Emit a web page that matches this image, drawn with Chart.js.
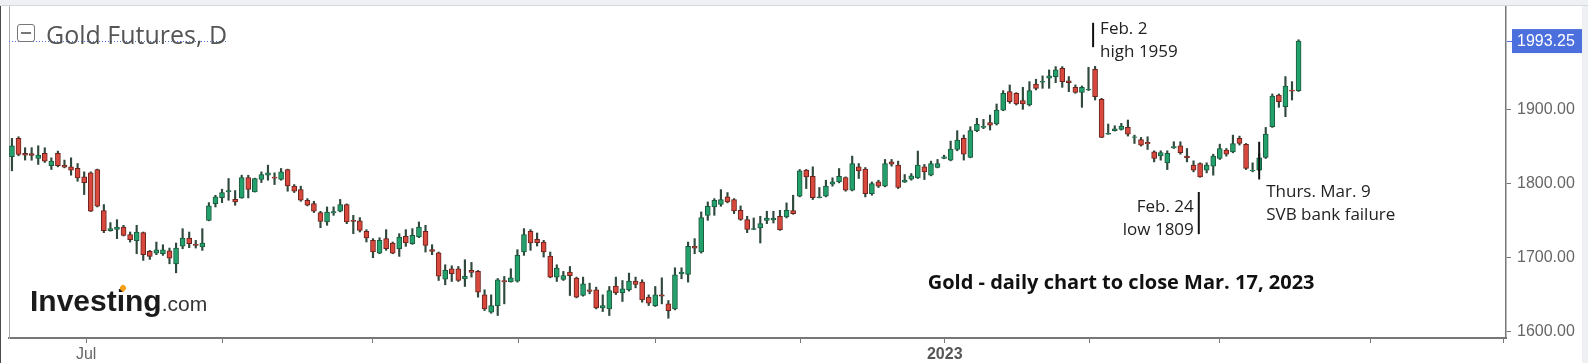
<!DOCTYPE html>
<html>
<head>
<meta charset="utf-8">
<title>Gold Futures, D</title>
<script src="https://cdn.jsdelivr.net/npm/chart.js@4.4.1/dist/chart.umd.min.js"></script>
<style>
    html, body { margin: 0; padding: 0; }
    body { width: 1588px; height: 363px; background: #eef0f3; position: relative; overflow: hidden; }
    #topline { position: absolute; left: 0; top: 5px; width: 1588px; height: 1px; background: #d5d8dd; }
    #panel { position: absolute; left: 0; top: 6px; width: 1582px; height: 357px; background: #fff; }
    #edge { position: absolute; left: 0; top: 6px; width: 1px; height: 357px; background: #4a4a4a; }
    #icon { position: absolute; left: 17px; top: 24px; width: 16px; height: 16px; border: 1.5px solid #777; border-radius: 3px; }
    #icon::after { content: ''; position: absolute; left: 3px; top: 7px; width: 10px; height: 2px; background: #777; }
    #title { position: absolute; left: 46px; top: 22px; font-family: 'Open Sans', sans-serif; font-size: 25px; line-height: 24px; color: #555; white-space: nowrap; }
    #logo { position: absolute; left: 30px; top: 286px; font-family: 'Liberation Sans', Arial, sans-serif; line-height: 30px; white-space: nowrap; }
    #logo b { font-size: 30px; color: #1b1b1b; }
    #logo span { font-size: 21px; color: #333; }
    #flame { position: absolute; left: 120px; top: 285px; width: 6px; height: 6px; background: #f6a01a; border-radius: 50% 50% 50% 0; transform: rotate(-45deg); }
</style>
</head>
<body>
<div id="topline"></div>
<div id="panel"><canvas id="chart" width="1582" height="357"></canvas></div>
<div id="edge"></div>
<div id="icon"></div>
<div id="title">Gold Futures, D</div>
<div id="logo"><b>Investing</b><span>.com</span></div>
<div id="flame"></div>
<script>
// daily OHLC, mid-June 2022 to Mar 17 2023
const opens = [
    1836.7, 1861.6, 1841.2, 1841.0, 1834.4, 1841.2, 1824.5, 1841.2, 1825.4, 1823.1,
    1820.9, 1809.5, 1815.0, 1819.5, 1763.9, 1736.7, 1738.5, 1741.7, 1731.3, 1723.2,
    1734.0, 1708.7, 1706.4, 1705.5, 1709.6, 1691.9, 1715.9, 1726.8, 1718.6, 1714.6,
    1750.7, 1773.4, 1781.5, 1789.2, 1779.2, 1781.0, 1808.6, 1789.2, 1805.9, 1811.8,
    1809.1, 1805.9, 1819.5, 1796.9, 1792.4, 1777.9, 1773.4, 1761.2, 1748.5, 1760.7,
    1763.0, 1772.0, 1750.8, 1749.9, 1735.8, 1723.6, 1706.4, 1725.9, 1720.0, 1712.3,
    1729.0, 1719.1, 1728.1, 1735.8, 1711.0, 1706.9, 1671.2, 1685.2, 1685.2, 1671.6,
    1682.9, 1681.6, 1649.9, 1626.4, 1635.4, 1669.3, 1667.5, 1668.4, 1707.8, 1735.8,
    1725.0, 1721.4, 1702.4, 1673.9, 1670.7, 1680.7, 1672.5, 1649.0, 1656.7, 1656.7,
    1632.3, 1630.9, 1661.7, 1652.6, 1656.7, 1668.4, 1667.1, 1646.7, 1635.4, 1649.9,
    1637.7, 1630.9, 1678.4, 1677.5, 1715.5, 1707.8, 1757.5, 1768.8, 1772.4, 1782.4,
    1778.8, 1764.3, 1751.6, 1738.5, 1740.3, 1750.7, 1751.2, 1756.2, 1755.3, 1763.9,
    1783.3, 1818.6, 1810.4, 1781.5, 1783.3, 1799.6, 1802.7, 1808.6, 1791.4, 1823.1,
    1819.9, 1786.9, 1802.7, 1796.9, 1829.9, 1825.4, 1802.3, 1806.4, 1808.2, 1823.1,
    1811.8, 1822.2, 1834.4, 1832.2, 1846.6, 1861.6, 1835.8, 1872.0, 1876.5, 1882.8,
    1881.0, 1899.9, 1924.8, 1922.6, 1912.6, 1906.7, 1935.2, 1937.5, 1942.9, 1945.2,
    1956.5, 1939.3, 1930.7, 1923.9, 1927.1, 1955.1, 1914.4, 1867.4, 1871.9, 1873.7,
    1876.4, 1862.9, 1860.1, 1856.1, 1843.4, 1838.0, 1828.5, 1848.8, 1851.6, 1837.5,
    1825.3, 1827.6, 1818.5, 1824.0, 1834.4, 1845.7, 1843.4, 1861.5, 1853.4, 1817.6,
    1818.5, 1835.7, 1877.3, 1920.3, 1904.5, 1927.1, 1926.2
];
const highs = [
    1861.6, 1863.8, 1848.9, 1849.0, 1851.6, 1848.9, 1835.3, 1844.4, 1832.2, 1835.3,
    1827.6, 1816.3, 1816.3, 1820.0, 1772.0, 1747.6, 1751.6, 1744.0, 1734.9, 1744.0,
    1734.9, 1710.0, 1721.3, 1717.7, 1713.2, 1720.0, 1739.4, 1734.9, 1723.6, 1739.4,
    1774.7, 1784.6, 1792.8, 1807.3, 1791.0, 1811.8, 1811.8, 1807.8, 1816.3, 1825.4,
    1815.0, 1820.9, 1820.0, 1799.1, 1796.9, 1780.1, 1776.5, 1763.0, 1768.8, 1768.9,
    1779.0, 1773.0, 1757.5, 1754.4, 1738.1, 1725.9, 1727.2, 1738.1, 1721.4, 1732.7,
    1738.1, 1739.5, 1748.5, 1744.0, 1717.7, 1707.8, 1690.6, 1689.2, 1688.3, 1697.4,
    1693.8, 1682.9, 1656.7, 1649.9, 1672.0, 1674.8, 1685.2, 1711.0, 1739.5, 1738.1,
    1733.6, 1723.6, 1707.8, 1690.6, 1681.6, 1688.3, 1673.9, 1673.9, 1665.7, 1660.3,
    1649.9, 1661.2, 1673.9, 1669.3, 1679.3, 1673.9, 1670.3, 1649.9, 1661.2, 1672.9,
    1642.2, 1686.5, 1686.5, 1721.3, 1725.9, 1762.1, 1775.6, 1780.1, 1792.3, 1788.3,
    1780.1, 1770.2, 1756.2, 1753.9, 1756.2, 1763.0, 1763.0, 1764.3, 1774.3, 1784.7,
    1819.5, 1819.5, 1823.1, 1795.1, 1805.0, 1808.2, 1820.8, 1809.5, 1837.6, 1827.6,
    1822.2, 1802.7, 1805.0, 1833.1, 1833.1, 1830.8, 1812.7, 1814.0, 1844.4, 1826.3,
    1830.8, 1833.1, 1838.9, 1857.9, 1872.0, 1866.1, 1877.4, 1888.7, 1887.3, 1893.2,
    1908.1, 1926.2, 1933.9, 1923.5, 1930.7, 1938.4, 1941.6, 1946.1, 1954.2, 1958.7,
    1958.7, 1945.2, 1933.9, 1932.5, 1957.8, 1959.0, 1915.8, 1881.0, 1878.7, 1881.9,
    1886.4, 1866.0, 1862.9, 1863.8, 1844.8, 1844.8, 1844.8, 1857.0, 1857.0, 1847.9,
    1831.2, 1828.5, 1828.5, 1840.2, 1853.8, 1847.9, 1866.0, 1864.7, 1854.7, 1828.5,
    1841.2, 1876.4, 1921.7, 1921.7, 1945.2, 1938.4, 1995.0
];
const lows = [
    1817.7, 1838.0, 1832.2, 1832.0, 1826.3, 1829.0, 1819.5, 1823.1, 1821.7, 1811.8,
    1803.6, 1785.6, 1762.5, 1768.8, 1734.0, 1736.0, 1725.9, 1729.5, 1721.3, 1705.5,
    1696.5, 1697.8, 1704.2, 1703.3, 1691.9, 1679.7, 1712.3, 1713.7, 1713.2, 1710.0,
    1750.0, 1768.8, 1774.7, 1777.9, 1771.1, 1780.5, 1781.0, 1789.0, 1801.8, 1805.0,
    1799.1, 1805.0, 1790.1, 1788.3, 1776.5, 1770.2, 1761.2, 1740.8, 1744.0, 1757.5,
    1762.1, 1746.2, 1732.7, 1734.9, 1721.4, 1700.1, 1705.5, 1710.1, 1705.5, 1701.9,
    1715.5, 1718.2, 1727.2, 1707.8, 1704.2, 1669.3, 1663.5, 1668.0, 1668.0, 1661.2,
    1673.9, 1646.7, 1628.6, 1625.0, 1621.9, 1637.7, 1667.1, 1667.1, 1703.3, 1710.1,
    1715.9, 1701.0, 1673.0, 1668.0, 1669.3, 1649.0, 1645.8, 1648.1, 1651.3, 1630.9,
    1627.3, 1621.9, 1650.3, 1640.9, 1654.9, 1659.4, 1639.9, 1635.4, 1634.1, 1637.7,
    1618.2, 1629.5, 1671.6, 1667.1, 1705.5, 1706.4, 1750.7, 1757.5, 1769.7, 1774.3,
    1759.8, 1750.7, 1734.0, 1738.0, 1720.0, 1746.2, 1747.1, 1737.2, 1753.9, 1758.9,
    1782.4, 1793.7, 1778.8, 1781.0, 1782.4, 1796.9, 1801.4, 1790.1, 1790.5, 1807.3,
    1782.4, 1784.7, 1795.1, 1796.0, 1824.0, 1793.7, 1802.0, 1805.0, 1807.3, 1805.9,
    1810.9, 1821.7, 1834.0, 1831.2, 1844.8, 1832.2, 1835.3, 1870.6, 1874.7, 1872.9,
    1879.6, 1899.0, 1909.0, 1906.7, 1900.9, 1905.4, 1927.1, 1929.3, 1929.3, 1937.0,
    1930.7, 1924.8, 1922.6, 1903.6, 1926.2, 1913.5, 1862.5, 1867.0, 1871.5, 1872.8,
    1864.7, 1854.7, 1851.1, 1846.6, 1829.8, 1832.1, 1819.4, 1847.9, 1840.2, 1829.8,
    1816.3, 1809.0, 1814.9, 1811.8, 1833.0, 1837.5, 1842.1, 1852.5, 1819.4, 1816.3,
    1817.6, 1834.4, 1876.4, 1903.6, 1890.9, 1913.5, 1925.0
];
const closes = [
    1851.6, 1839.8, 1839.0, 1838.5, 1839.0, 1830.8, 1830.8, 1824.5, 1822.7, 1818.6,
    1808.2, 1801.8, 1763.0, 1769.7, 1736.7, 1739.4, 1741.7, 1730.4, 1724.5, 1734.9,
    1704.2, 1701.9, 1710.9, 1710.9, 1699.6, 1713.2, 1726.8, 1719.1, 1716.8, 1720.0,
    1770.2, 1782.4, 1788.3, 1791.0, 1775.6, 1808.6, 1792.4, 1807.3, 1812.7, 1815.0,
    1807.7, 1816.3, 1797.3, 1790.1, 1777.9, 1771.1, 1763.0, 1749.4, 1762.0, 1762.5,
    1772.0, 1748.5, 1749.4, 1737.2, 1726.8, 1707.8, 1723.6, 1712.3, 1706.4, 1728.1,
    1720.0, 1730.4, 1741.7, 1716.8, 1708.7, 1675.2, 1682.9, 1678.4, 1669.3, 1674.8,
    1680.2, 1653.5, 1630.9, 1635.4, 1670.3, 1667.5, 1673.0, 1703.3, 1731.3, 1720.0,
    1720.5, 1707.8, 1673.9, 1686.1, 1676.1, 1675.7, 1646.7, 1664.8, 1654.4, 1632.3,
    1635.4, 1655.8, 1652.6, 1658.0, 1668.4, 1663.9, 1643.1, 1638.6, 1649.9, 1648.1,
    1628.6, 1677.0, 1680.6, 1715.5, 1713.2, 1754.4, 1769.7, 1777.9, 1778.8, 1775.6,
    1763.4, 1752.1, 1738.5, 1739.4, 1746.2, 1753.9, 1753.9, 1738.1, 1764.3, 1759.8,
    1817.7, 1809.5, 1781.5, 1782.4, 1796.9, 1802.7, 1810.4, 1791.4, 1827.6, 1817.7,
    1786.9, 1800.5, 1796.9, 1827.6, 1826.7, 1795.1, 1805.0, 1810.9, 1825.4, 1816.3,
    1827.6, 1827.6, 1836.7, 1847.1, 1859.3, 1840.3, 1872.0, 1880.5, 1877.8, 1879.6,
    1899.9, 1922.6, 1911.3, 1908.1, 1908.1, 1926.2, 1929.3, 1938.8, 1946.1, 1954.2,
    1938.4, 1937.0, 1923.9, 1930.7, 1928.4, 1918.0, 1862.9, 1868.3, 1874.6, 1878.2,
    1867.4, 1863.8, 1852.5, 1854.3, 1834.4, 1842.5, 1841.2, 1850.6, 1842.1, 1835.3,
    1818.5, 1809.5, 1825.3, 1837.5, 1847.9, 1840.2, 1854.7, 1854.7, 1820.8, 1818.5,
    1835.3, 1867.4, 1918.9, 1911.3, 1932.5, 1925.3, 1993.25
];

// month boundaries on the trading-day axis
const monthTicks = [11.3, 32.1, 55, 77.1, 98.1, 120.2, 142.1, 164.1, 184, 207, 227.2];
const monthLabels = ['Jul', '', '', '', '', '', '2023', '', '', '', ''];
const priceTicks = [1600, 1700, 1800, 1900];

const notes = [
    { at: 164.7, top: 2018, bottom: 1985, first: 2009.6, side: 'right', lines: ['Feb. 2', 'high 1959'] },
    { at: 180.8, top: 1789, bottom: 1732, first: 1768.3, side: 'left', lines: ['Feb. 24', 'low 1809'] },
    { at: 190.0, top: 1857, bottom: 1806, first: 1789.4, side: 'right', lines: ['Thurs. Mar. 9', 'SVB bank failure'] }
];
const caption = { at: 139.5, level: 1666, text: 'Gold - daily chart to close Mar. 17, 2023' };

const UP_FILL = '#23a16c', UP_LINE = '#1c5a3d';
const DOWN_FILL = '#d9483d', DOWN_LINE = '#6a221c';
const WICK = '#2f4a3d';
const PRICE_BLUE = '#4b6fdc';

const days = opens.map((_, i) => i);
const lastClose = closes[closes.length - 1];
const isUp = i => closes[i] >= opens[i];

// no label padding at the plot edges, the plot fills the panel
const noPad = axis => {
    axis.paddingTop = 0;
    axis.paddingBottom = 0;
    axis.paddingLeft = 0;
    axis.paddingRight = 0;
};

const overlay = {
    id: 'overlay',
    afterDatasetsDraw(chart) {
        const ctx = chart.ctx, xs = chart.scales.x, ys = chart.scales.y, area = chart.chartArea;
        // dotted last-price line behind the title
        const py = Math.round(ys.getPixelForValue(lastClose)) + 0.5;
        ctx.save();
        ctx.strokeStyle = PRICE_BLUE;
        ctx.lineWidth = 1;
        ctx.setLineDash([1, 2]);
        ctx.beginPath();
        ctx.moveTo(area.left, py);
        ctx.lineTo(xs.getPixelForValue(32.75), py);
        ctx.stroke();
        ctx.restore();

        // marker lines and notes
        ctx.save();
        notes.forEach(n => {
            const x = xs.getPixelForValue(n.at);
            ctx.strokeStyle = '#111';
            ctx.lineWidth = 2;
            ctx.beginPath();
            ctx.moveTo(x, ys.getPixelForValue(n.top));
            ctx.lineTo(x, ys.getPixelForValue(n.bottom));
            ctx.stroke();
            ctx.font = '17px "Open Sans"';
            ctx.fillStyle = '#222';
            ctx.textBaseline = 'middle';
            ctx.textAlign = n.side === 'right' ? 'left' : 'right';
            const tx = n.side === 'right' ? x + 7 : x - 5;
            const ty = ys.getPixelForValue(n.first);
            n.lines.forEach((t, i) => ctx.fillText(t, tx, ty + i * 23));
        });
        ctx.font = 'bold 20px "Open Sans"';
        ctx.fillStyle = '#111';
        ctx.textAlign = 'left';
        ctx.textBaseline = 'middle';
        ctx.fillText(caption.text, xs.getPixelForValue(caption.at), ys.getPixelForValue(caption.level));
        ctx.restore();
    },
    afterDraw(chart) {
        const ctx = chart.ctx, ys = chart.scales.y, area = chart.chartArea;
        const y = ys.getPixelForValue(lastClose);
        ctx.save();
        ctx.fillStyle = PRICE_BLUE;
        ctx.fillRect(area.right + 6, y - 12, chart.width - area.right - 6, 24);
        ctx.strokeStyle = PRICE_BLUE;
        ctx.lineWidth = 1;
        ctx.beginPath();
        ctx.moveTo(area.right + 1, Math.round(y) + 0.5);
        ctx.lineTo(area.right + 6, Math.round(y) + 0.5);
        ctx.stroke();
        ctx.fillStyle = '#fff';
        ctx.font = '16px "Liberation Sans"';
        ctx.textAlign = 'left';
        ctx.textBaseline = 'middle';
        ctx.fillText(lastClose.toFixed(2), area.right + 11, y + 1);
        ctx.restore();
    }
};

new Chart(document.getElementById('chart').getContext('2d'), {
    type: 'bar',
    data: {
        datasets: [{
            label: 'body',
            data: days.map(i => ({ x: i, y: [opens[i], closes[i]] })),
            backgroundColor: c => isUp(c.dataIndex) ? UP_FILL : DOWN_FILL,
            borderColor: c => isUp(c.dataIndex) ? UP_LINE : DOWN_LINE,
            borderWidth: 1,
            borderSkipped: false,
            barThickness: 5,
            grouped: false,
            order: 0
        }, {
            label: 'wick',
            data: days.map(i => ({ x: i, y: [lows[i], highs[i]] })),
            backgroundColor: WICK,
            borderWidth: 0,
            barThickness: 1.5,
            grouped: false,
            order: 1
        }]
    },
    options: {
        responsive: false,
        animation: false,
        devicePixelRatio: 1,
        layout: { padding: { left: 9, right: 0, top: 0, bottom: 0 } },
        plugins: { legend: { display: false }, tooltip: { enabled: false } },
        scales: {
            x: {
                type: 'linear',
                min: -0.45,
                max: 227.6,
                offset: false,
                afterBuildTicks: axis => { axis.ticks = monthTicks.map(v => ({ value: v })); },
                afterFit: axis => { axis.height = 25; noPad(axis); },
                ticks: {
                    autoSkip: false,
                    maxRotation: 0,
                    padding: 2,
                    callback: (v, i) => monthLabels[i],
                    color: c => c.tick && c.tick.label === '2023' ? '#555' : '#666',
                    font: c => ({ family: 'Liberation Sans', size: 16, weight: c.tick && c.tick.label === '2023' ? 'bold' : 'normal' })
                },
                grid: { offset: false, drawOnChartArea: false, tickLength: 5, color: '#777' },
                border: { color: '#777', width: 2 }
            },
            y: {
                position: 'right',
                min: 1591.5,
                max: 2040.7,
                afterBuildTicks: axis => { axis.ticks = priceTicks.map(v => ({ value: v })); },
                afterFit: axis => { axis.width = 76; noPad(axis); },
                ticks: {
                    padding: 6,
                    color: '#666',
                    font: { family: 'Liberation Sans', size: 16 },
                    callback: v => v.toFixed(2)
                },
                grid: { drawOnChartArea: false, tickLength: 5, color: '#777' },
                border: { color: '#777', width: 1.5 }
            },
            yl: {
                position: 'left',
                min: 1591.5,
                max: 2040.7,
                afterFit: axis => { axis.width = 0; noPad(axis); },
                ticks: { display: false },
                grid: { display: false },
                border: { display: true, color: '#aaa', width: 1 }
            }
        }
    },
    plugins: [overlay]
});
</script>
</body>
</html>
